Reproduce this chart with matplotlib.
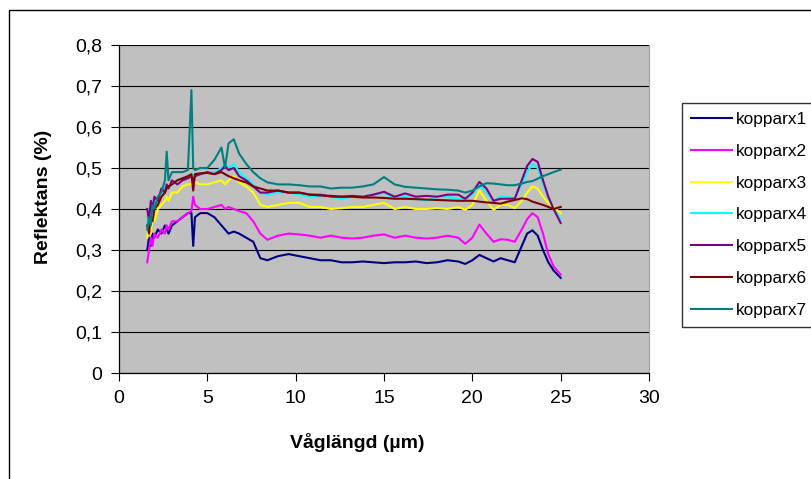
import matplotlib
matplotlib.use('Agg')
import matplotlib.pyplot as plt
from matplotlib.patches import Rectangle

plt.rcParams['font.family'] = ['Liberation Sans', 'DejaVu Sans']

# ── Data ─────────────────────────────────────────────────────────────
wavelength = [1.6, 1.7, 1.8, 1.9, 2.0, 2.2, 2.4, 2.6, 2.7, 2.8, 3.0, 3.3, 3.6,
              3.9, 4.1, 4.2, 4.3, 4.6, 5.0, 5.4, 5.8, 6.0, 6.2, 6.5, 6.8, 7.2,
              7.6, 8.0, 8.4, 9.0, 9.6, 10.2, 10.8, 11.4, 12.0, 12.6, 13.2,
              13.8, 14.4, 15.0, 15.6, 16.2, 16.8, 17.4, 18.0, 18.6, 19.2,
              19.6, 20.0, 20.4, 20.8, 21.2, 21.6, 22.0, 22.4, 22.8, 23.1,
              23.4, 23.7, 24.0, 24.3, 24.6, 25.0]

kopparx1 = [0.30, 0.33, 0.31, 0.34, 0.33, 0.35, 0.34, 0.36, 0.35, 0.34, 0.36,
            0.37, 0.38, 0.39, 0.39, 0.31, 0.38, 0.39, 0.39, 0.38, 0.36, 0.35,
            0.34, 0.345, 0.34, 0.33, 0.32, 0.28, 0.275, 0.285, 0.29, 0.285,
            0.28, 0.275, 0.275, 0.27, 0.27, 0.272, 0.27, 0.268, 0.27, 0.27,
            0.272, 0.268, 0.27, 0.275, 0.272, 0.266, 0.275, 0.288, 0.28,
            0.272, 0.28, 0.275, 0.27, 0.31, 0.34, 0.348, 0.335, 0.30, 0.27,
            0.25, 0.232]
kopparx2 = [0.27, 0.30, 0.33, 0.31, 0.34, 0.33, 0.35, 0.34, 0.36, 0.35, 0.37,
            0.37, 0.38, 0.39, 0.395, 0.43, 0.41, 0.40, 0.40, 0.405, 0.41, 0.40,
            0.405, 0.40, 0.395, 0.39, 0.37, 0.34, 0.325, 0.335, 0.34, 0.338,
            0.335, 0.33, 0.335, 0.33, 0.328, 0.33, 0.335, 0.338, 0.33, 0.335,
            0.33, 0.328, 0.33, 0.335, 0.33, 0.315, 0.33, 0.362, 0.34, 0.32,
            0.326, 0.325, 0.32, 0.35, 0.375, 0.39, 0.38, 0.34, 0.29, 0.26,
            0.24]
kopparx3 = [0.33, 0.36, 0.34, 0.38, 0.37, 0.40, 0.41, 0.42, 0.43, 0.42, 0.44,
            0.44, 0.455, 0.46, 0.46, 0.47, 0.465, 0.46, 0.46, 0.465, 0.47,
            0.46, 0.47, 0.48, 0.465, 0.455, 0.44, 0.41, 0.405, 0.41, 0.415,
            0.415, 0.405, 0.405, 0.40, 0.402, 0.405, 0.405, 0.41, 0.415, 0.40,
            0.405, 0.40, 0.40, 0.402, 0.40, 0.405, 0.398, 0.41, 0.445, 0.42,
            0.398, 0.41, 0.41, 0.402, 0.42, 0.44, 0.455, 0.45, 0.43, 0.415,
            0.405, 0.39]
kopparx4 = [0.36, 0.40, 0.38, 0.42, 0.41, 0.43, 0.44, 0.45, 0.46, 0.45, 0.46,
            0.47, 0.475, 0.48, 0.48, 0.485, 0.48, 0.485, 0.49, 0.49, 0.50,
            0.51, 0.50, 0.51, 0.49, 0.475, 0.46, 0.44, 0.435, 0.44, 0.44,
            0.435, 0.43, 0.43, 0.43, 0.425, 0.43, 0.43, 0.435, 0.44, 0.425,
            0.43, 0.425, 0.42, 0.43, 0.43, 0.425, 0.425, 0.435, 0.46, 0.44,
            0.42, 0.43, 0.43, 0.425, 0.46, 0.49, 0.51, 0.50, 0.46, 0.43, 0.40,
            0.375]
kopparx5 = [0.40, 0.37, 0.42, 0.40, 0.43, 0.42, 0.45, 0.44, 0.46, 0.45, 0.47,
            0.46, 0.47, 0.475, 0.48, 0.47, 0.48, 0.485, 0.49, 0.485, 0.495,
            0.505, 0.495, 0.50, 0.48, 0.47, 0.455, 0.44, 0.44, 0.445, 0.44,
            0.44, 0.435, 0.435, 0.43, 0.43, 0.432, 0.43, 0.435, 0.442, 0.43,
            0.438, 0.43, 0.432, 0.43, 0.435, 0.435, 0.425, 0.44, 0.466, 0.45,
            0.42, 0.425, 0.425, 0.425, 0.47, 0.505, 0.522, 0.515, 0.47, 0.43,
            0.40, 0.366]
kopparx6 = [0.36, 0.34, 0.38, 0.37, 0.40, 0.41, 0.43, 0.44, 0.45, 0.455, 0.46,
            0.47, 0.475, 0.48, 0.485, 0.445, 0.485, 0.487, 0.488, 0.485, 0.49,
            0.485, 0.48, 0.475, 0.47, 0.465, 0.455, 0.45, 0.445, 0.445, 0.44,
            0.44, 0.435, 0.433, 0.432, 0.43, 0.43, 0.428, 0.428, 0.427, 0.425,
            0.425, 0.424, 0.423, 0.422, 0.421, 0.42, 0.42, 0.42, 0.418, 0.416,
            0.415, 0.413, 0.418, 0.422, 0.426, 0.424, 0.418, 0.414, 0.41,
            0.405, 0.40, 0.405]
kopparx7 = [0.35, 0.38, 0.36, 0.41, 0.40, 0.43, 0.44, 0.47, 0.54, 0.47, 0.49,
            0.49, 0.49, 0.495, 0.69, 0.50, 0.495, 0.50, 0.50, 0.52, 0.55, 0.50,
            0.56, 0.57, 0.535, 0.51, 0.49, 0.475, 0.465, 0.46, 0.46, 0.458,
            0.455, 0.455, 0.45, 0.452, 0.452, 0.455, 0.46, 0.478, 0.46, 0.454,
            0.452, 0.45, 0.448, 0.447, 0.445, 0.44, 0.445, 0.455, 0.463, 0.462,
            0.46, 0.458, 0.458, 0.462, 0.466, 0.468, 0.474, 0.48, 0.485, 0.49,
            0.496]

series = [kopparx1, kopparx2, kopparx3, kopparx4, kopparx5, kopparx6, kopparx7]
labels = ['kopparx1', 'kopparx2', 'kopparx3', 'kopparx4', 'kopparx5',
          'kopparx6', 'kopparx7']
colors = ['#000080', '#FF00FF', '#FFFF00', '#00FFFF', '#800080', '#800000',
          '#008080']

y_ticks = [0, 0.1, 0.2, 0.3, 0.4, 0.5, 0.6, 0.7, 0.8]
y_ticklabels = ['0', '0,1', '0,2', '0,3', '0,4', '0,5', '0,6', '0,7', '0,8']
x_ticks = [0, 5, 10, 15, 20, 25, 30]

# ── Figure ───────────────────────────────────────────────────────────
W, H = 812, 479
fig = plt.figure(figsize=(W / 100, H / 100), dpi=100)
fig.patch.set_facecolor('white')

# outer chart border (cut off on right and bottom in the original)
fig.patches.append(Rectangle((9.5 / W, -0.1), 1.2, 1 - 9.5 / H + 0.1,
                             transform=fig.transFigure, fill=False,
                             edgecolor='black', linewidth=1.0))

ax = fig.add_axes([119 / W, 1 - 373 / H, (649 - 119) / W, (373 - 45) / H])
ax.set_facecolor('#C0C0C0')

for ys, lab, col in zip(series, labels, colors):
    ax.plot(wavelength, ys, color=col, linewidth=1.5, label=lab, zorder=3)

ax.set_xlim(0, 30)
ax.set_ylim(0, 0.8)
ax.set_yticks(y_ticks)
ax.set_yticklabels(y_ticklabels)
ax.set_xticks(x_ticks)
ax.grid(axis='y', color='black', linewidth=0.8, zorder=1)
ax.set_axisbelow(True)
ax.tick_params(direction='out', length=6, width=0.8, labelsize=14, pad=6,
               colors='black')

ax.spines['top'].set_visible(False)
ax.spines['right'].set_color('#A0A0A0')
ax.spines['left'].set_linewidth(0.9)
ax.spines['bottom'].set_linewidth(0.9)

fig.text(44 / W, 1 - 197 / H, 'Reflektans (%)', rotation=90, ha='center',
         va='center', fontsize=14, fontweight='bold')
fig.text(357 / W, 1 - 443 / H, 'Våglängd (µm)', ha='center', va='center',
         fontsize=14, fontweight='bold')

leg = fig.legend(loc='upper left', bbox_to_anchor=(682 / W, 1 - 103 / H),
                 borderaxespad=0, fontsize=12.4, frameon=True, fancybox=False,
                 handlelength=2.4, handletextpad=0.25, labelspacing=0.98,
                 borderpad=0.5)
leg.get_frame().set_edgecolor('black')
leg.get_frame().set_linewidth(1.0)
for line in leg.get_lines():
    line.set_linewidth(1.5)

fig.savefig('out.png', dpi=100, facecolor='white')
